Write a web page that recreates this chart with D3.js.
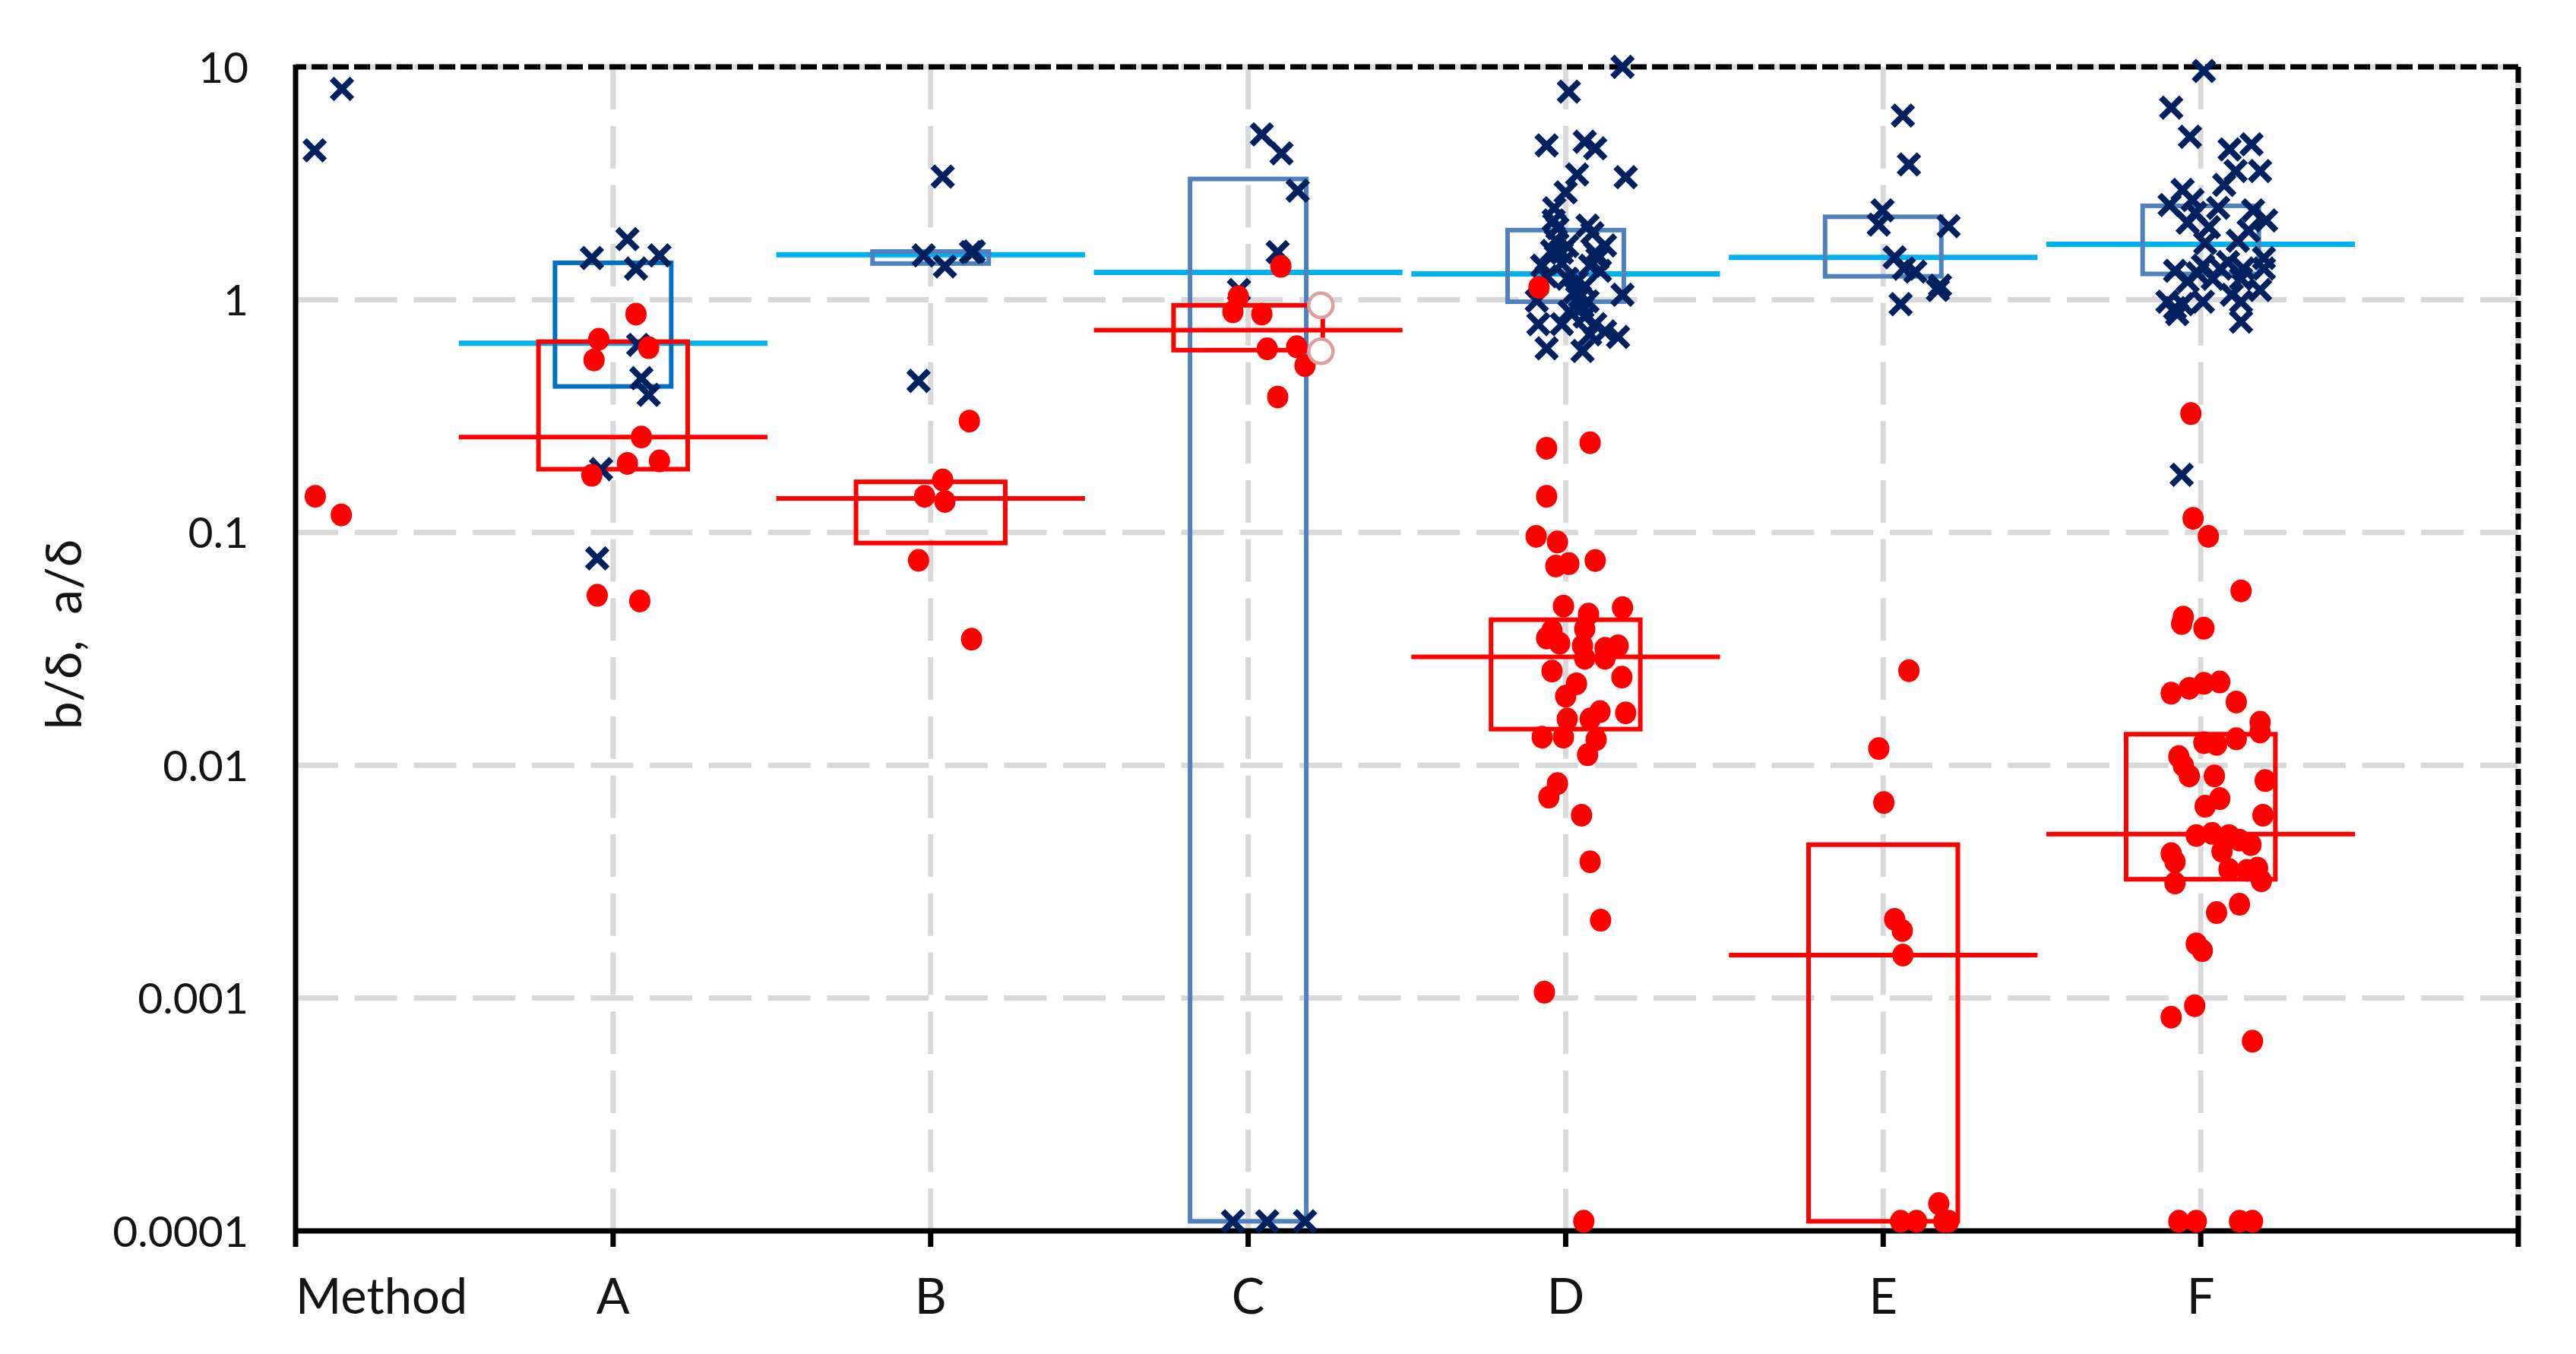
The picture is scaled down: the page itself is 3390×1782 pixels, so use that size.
<!DOCTYPE html>
<html><head><meta charset="utf-8">
<script src="https://cdn.jsdelivr.net/npm/d3@7"></script>
<style>
body{margin:0;background:#fff}
svg{display:block}
text{font-family:Lato,"Open Sans",sans-serif;fill:#141414}
</style>
</head><body>
<svg id="chart" width="3390" height="1782"></svg>
<script>
// ---------------- data ----------------
const categories = ["Method","A","B","C","D","E","F"];
const yTickValues = [1e-4, 1e-3, 1e-2, 1e-1, 1, 10];
const yTickLabels = ["0.0001","0.001","0.01","0.1","1","10"];

// [offset from category (category units), value]
const bMethod = [[0.146,8.04],[0.060,4.38]];
const aMethod = [[0.062,0.143],[0.144,0.119]];

const bA = [[0.045,1.82],[-0.067,1.51],[0.146,1.55],[0.072,1.36],[0.079,0.64],[0.089,0.46],[0.112,0.39],[-0.038,0.187],[-0.050,0.0774]];
const aA = [[0.072,0.867],[-0.045,0.676],[0.112,0.622],[-0.060,0.551],[0.089,0.257],[0.045,0.198],[0.146,0.203],[-0.067,0.176],[-0.050,0.0537],[0.084,0.0508]];

const bB = [[0.038,3.38],[-0.022,1.55],[0.127,1.60],[0.136,1.61],[0.045,1.39],[-0.038,0.448]];
const aB = [[0.122,0.301],[0.038,0.168],[-0.019,0.143],[0.045,0.136],[-0.038,0.0759],[0.129,0.0348]];

const bC = [[0.043,5.13],[0.105,4.25],[0.156,2.94],[0.093,1.60],[-0.029,1.10],[-0.048,0.00011],[0.060,0.00011],[0.179,0.00011]];
const aC = [[0.103,1.39],[-0.031,1.03],[-0.048,0.887],[0.043,0.867],[0.060,0.615],[0.153,0.628],[0.179,0.521],[0.093,0.382]];
const cOpen = [[0.229,0.946],[0.229,0.600]];

const bD = [[0.179,10.0],[0.010,7.83],[-0.060,4.60],[0.060,4.77],[0.093,4.47],[0.036,3.45],[0.189,3.36],[0.000,2.89],[-0.036,2.47],[-0.038,2.19],
  [-0.026,2.03],[0.069,2.08],[0.084,1.93],[0.124,1.71],[-0.043,1.62],[-0.012,1.59],[0.093,1.59],[-0.074,1.40],[-0.012,1.43],[0.077,1.40],
  [0.108,1.33],[-0.060,1.26],[0.005,1.23],[0.060,1.14],[0.045,1.03],[0.179,1.05],[0.069,0.984],[-0.091,0.99],[0.012,0.889],[0.060,0.846],
  [-0.086,0.785],[-0.012,0.785],[0.093,0.785],[0.077,0.710],[0.165,0.692],[0.124,0.73],[-0.060,0.618],[0.053,0.602],
  [0.036,1.20],[0.053,0.93],[0.029,1.08],[0.100,1.50],[0.005,1.70],[-0.031,1.80]];
const aD = [[-0.084,1.13],[-0.060,0.230],[0.077,0.243],[-0.060,0.143],[-0.093,0.0962],[-0.026,0.0910],[-0.031,0.0718],[0.010,0.0735],[0.093,0.0758],
  [-0.007,0.0483],[0.179,0.0475],[0.072,0.0446],[-0.043,0.0379],[0.060,0.0385],[-0.019,0.0334],[0.053,0.0326],[0.124,0.0318],[0.165,0.0326],
  [-0.060,0.0352],[0.060,0.0288],[0.124,0.0288],[-0.043,0.0254],[0.177,0.0239],[0.034,0.0224],[0.000,0.0198],[0.108,0.0170],[0.189,0.0168],
  [0.005,0.0158],[0.077,0.0158],[-0.074,0.0132],[-0.007,0.0132],[0.096,0.0129],[0.069,0.0111],[-0.026,0.00834],[-0.053,0.00730],
  [0.050,0.00610],[0.077,0.00385],[0.110,0.00216],[-0.067,0.00106],[0.057,0.00011]];

const bE = [[0.062,6.18],[0.081,3.81],[-0.002,2.42],[-0.014,2.10],[0.206,2.07],[0.036,1.52],[0.065,1.36],[0.101,1.32],[0.179,1.15],[0.172,1.10],[0.055,0.957]];
const aE = [[0.081,0.0255],[-0.014,0.0118],[0.002,0.00692],[0.036,0.00218],[0.060,0.00195],[0.062,0.00153],[0.055,0.00011],[0.105,0.00011],[0.175,0.000131],[0.191,0.00011],[0.206,0.00011]];

const bF = [[0.010,9.6],[-0.093,6.68],[-0.034,5.01],[0.091,4.42],[0.160,4.65],[0.110,3.57],[0.187,3.57],[0.074,3.11],[-0.057,2.96],[-0.098,2.55],
  [-0.026,2.68],[-0.017,2.36],[0.055,2.48],[0.165,2.42],[0.206,2.19],[-0.041,2.14],[0.151,1.98],[0.014,1.75],[0.117,1.79],[0.199,1.51],
  [-0.081,1.33],[0.007,1.40],[0.062,1.36],[0.134,1.36],[0.199,1.36],[-0.041,1.20],[0.038,1.23],[0.127,1.23],[0.187,1.10],[-0.105,0.98],
  [-0.057,0.957],[0.007,0.98],[-0.074,0.867],[0.127,0.98],[0.127,0.805],[-0.081,0.92],[-0.060,0.177],
  [-0.010,1.30],[0.086,1.45],[0.026,2.05],[0.098,1.05]];
const aF = [[-0.031,0.324],[-0.024,0.115],[0.024,0.0962],[0.127,0.0561],[-0.055,0.0433],[-0.060,0.0406],[0.010,0.0388],[-0.093,0.0204],[-0.036,0.0214],
  [0.010,0.0225],[0.060,0.0228],[0.112,0.0187],[0.187,0.0153],[0.187,0.0139],[0.112,0.0130],[0.010,0.0125],[0.050,0.0123],[-0.069,0.0109],
  [-0.055,0.00998],[-0.036,0.00900],[0.043,0.00900],[0.203,0.00860],[0.060,0.00719],[0.014,0.00667],[0.196,0.00610],[-0.014,0.00499],
  [0.036,0.00510],[0.089,0.00499],[0.122,0.00477],[0.158,0.00456],[-0.093,0.00417],[0.067,0.00427],[-0.081,0.00385],[0.089,0.00357],
  [0.179,0.00362],[0.146,0.00354],[0.191,0.00319],[-0.081,0.00312],[0.122,0.00253],[0.050,0.00233],[-0.014,0.00171],[0.005,0.00160],
  [-0.019,0.000927],[-0.093,0.000828],[0.163,0.000653],[-0.069,0.00011],[-0.014,0.00011],[0.122,0.00011],[0.163,0.00011]];

// box statistics per category (index 0 = "Method", no box)
const bLow  = [null, 0.424, 1.43, 0.00011, 0.98, 1.26, 1.29];
const bHigh = [null, 1.44, 1.61, 3.30, 1.99, 2.27, 2.53];
const bMid  = [null, 0.65, 1.56, 1.31, 1.29, 1.52, 1.73];
const aLow  = [null, 0.187, 0.0901, 0.607, 0.0143, 0.00011, 0.00324];
const aHigh = [null, 0.66, 0.165, 0.946, 0.0422, 0.00456, 0.0136];
const aMid  = [null, 0.257, 0.140, 0.740, 0.0292, 0.00153, 0.00506];

const bPoints = [bMethod, bA, bB, bC, bD, bE, bF];
const aPoints = [aMethod, aA, aB, aC, aD, aE, aF];

// ---------------- chart ----------------
const svg = d3.select("#chart");
const L = 389, R = 3314, T = 88, B = 1620;
const x = d3.scaleLinear().domain([0, 7]).range([L, R]);
const y = d3.scaleLog().domain([1e-4, 10]).range([B, T]);

const navy = "#002060", red = "#ff0000", cyan = "#00b0f0", boxBlue = "#4f81bd", grid = "#d9d9d9";

// gridlines
const g = svg.append("g");
g.selectAll("line.h").data(yTickValues.slice(1)).join("line")
  .attr("x1", L).attr("x2", R).attr("y1", d => y(d)).attr("y2", d => y(d))
  .attr("stroke", grid).attr("stroke-width", 7).attr("stroke-dasharray", "56 21.7");
g.selectAll("line.v").data(d3.range(1, 8)).join("line")
  .attr("x1", d => x(d)).attr("x2", d => x(d)).attr("y1", T).attr("y2", B)
  .attr("stroke", grid).attr("stroke-width", 7).attr("stroke-dasharray", "56 21.7");

// dashed top/right border
svg.append("line").attr("x1", L).attr("x2", R).attr("y1", T).attr("y2", T)
  .attr("stroke", "#000").attr("stroke-width", 7).attr("stroke-dasharray", "21 7").attr("stroke-dashoffset", 7);
svg.append("line").attr("x1", R).attr("x2", R).attr("y1", T).attr("y2", B)
  .attr("stroke", "#000").attr("stroke-width", 7).attr("stroke-dasharray", "21 7");

const idx = d3.range(1, 7);
const medHalf = 0.486, bHalf = 0.183, aHalf = 0.235;

// b median lines
svg.append("g").selectAll("line").data(idx).join("line")
  .attr("x1", i => x(i - medHalf)).attr("x2", i => x(i + medHalf))
  .attr("y1", i => y(bMid[i])).attr("y2", i => y(bMid[i]))
  .attr("stroke", cyan).attr("stroke-width", 7);
// b boxes
svg.append("g").selectAll("rect").data(idx).join("rect")
  .attr("x", i => x(i - bHalf)).attr("width", i => x(i + bHalf) - x(i - bHalf))
  .attr("y", i => y(bHigh[i])).attr("height", i => y(bLow[i]) - y(bHigh[i]))
  .attr("fill", "none").attr("stroke", (i) => i === 1 ? "#0070c0" : boxBlue).attr("stroke-width", 6);
// a boxes
svg.append("g").selectAll("rect").data(idx).join("rect")
  .attr("x", i => x(i - aHalf)).attr("width", i => x(i + aHalf) - x(i - aHalf))
  .attr("y", i => y(aHigh[i])).attr("height", i => y(aLow[i]) - y(aHigh[i]))
  .attr("fill", "none").attr("stroke", red).attr("stroke-width", 6);
// a median lines
svg.append("g").selectAll("line").data(idx).join("line")
  .attr("x1", i => x(i - medHalf)).attr("x2", i => x(i + medHalf))
  .attr("y1", i => y(aMid[i])).attr("y2", i => y(aMid[i]))
  .attr("stroke", red).attr("stroke-width", 6);

// axes (solid left / bottom)
svg.append("line").attr("x1", L).attr("x2", L).attr("y1", T - 3).attr("y2", B + 21)
  .attr("stroke", "#000").attr("stroke-width", 7);
svg.append("line").attr("x1", L - 3).attr("x2", R + 3).attr("y1", B).attr("y2", B)
  .attr("stroke", "#000").attr("stroke-width", 7);
svg.append("g").selectAll("line").data(d3.range(1, 8)).join("line")
  .attr("x1", d => x(d)).attr("x2", d => x(d)).attr("y1", B).attr("y2", B + 21)
  .attr("stroke", "#000").attr("stroke-width", 7);

// b markers (x)
const bFlat = bPoints.flatMap((pts, i) => pts.map(p => ({c: i, o: p[0], v: p[1]})));
svg.append("g").selectAll("path").data(bFlat).join("path")
  .attr("transform", d => `translate(${x(d.c + d.o)},${y(d.v)})`)
  .attr("d", "M-10.5,-10.5L10.5,10.5M-10.5,10.5L10.5,-10.5")
  .attr("stroke", navy).attr("stroke-width", 8).attr("stroke-linecap", "square").attr("fill", "none");
// a markers (dots)
const aFlat = aPoints.flatMap((pts, i) => pts.map(p => ({c: i, o: p[0], v: p[1]})));
svg.append("g").selectAll("ellipse").data(aFlat).join("ellipse")
  .attr("cx", d => x(d.c + d.o)).attr("cy", d => y(d.v)).attr("rx", 14).attr("ry", 15).attr("fill", red);
// open markers at C
svg.append("g").selectAll("circle").data(cOpen).join("circle")
  .attr("cx", d => x(3 + d[0])).attr("cy", d => y(d[1])).attr("r", 16)
  .attr("fill", "#fff").attr("stroke", "#dc9e9e").attr("stroke-width", 4.5);

// y tick labels
svg.append("g").selectAll("text").data(yTickValues).join("text")
  .attr("x", 327).attr("y", d => y(d)).attr("dy", "0.36em")
  .attr("text-anchor", "end").attr("font-size", 57)
  .text((d, i) => yTickLabels[i]);

// x tick labels
svg.append("g").selectAll("text").data(categories).join("text")
  .attr("x", (d, i) => i === 0 ? L : x(i)).attr("y", 1729)
  .attr("text-anchor", (d, i) => i === 0 ? "start" : "middle").attr("font-size", 65)
  .text(d => d);

// y title
svg.append("text").attr("transform", "translate(107,835) rotate(-90)")
  .attr("text-anchor", "middle").attr("font-size", 66).style("white-space", "pre")
  .text("b/δ,  a/δ");
</script>
</body></html>
